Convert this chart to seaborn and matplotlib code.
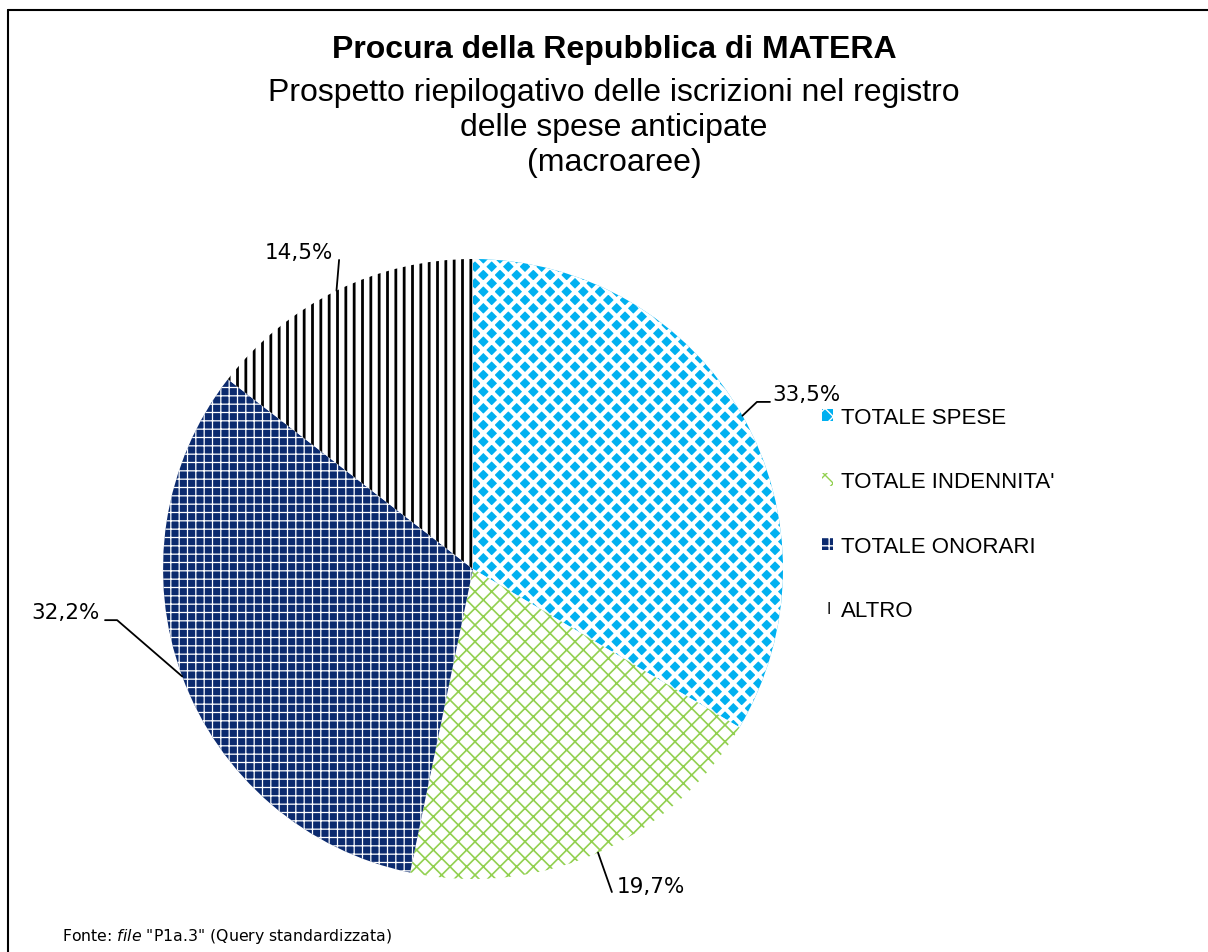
import numpy as np
import matplotlib
matplotlib.use("Agg")
import matplotlib.pyplot as plt
import seaborn as sns
from matplotlib.lines import Line2D

# ---- data ----
categories = ["TOTALE SPESE", "TOTALE INDENNITA'", "TOTALE ONORARI", "ALTRO"]
shares = [33.5, 19.7, 32.2, 14.5]
pct_labels = ["33,5%", "19,7%", "32,2%", "14,5%"]

# ---- styles ----
face_colors = ["#00B0F0", "#FFFFFF", "#0B2A6E", "#FFFFFF"]
hatch_colors = ["#FFFFFF", "#92D050", "#FFFFFF", "#000000"]
hatches = ["xx", "xx", "++", "||"]
hatch_widths = [3.0, 1.2, 0.9, 2.0]

sns.set_theme(style="white")
plt.rcParams["font.family"] = ["DejaVu Sans"]
plt.rcParams["text.color"] = "black"

W, H = 1208, 953
fig = plt.figure(figsize=(W / 100, H / 100), dpi=100)
R, cx, cy = 310, 473, 570
ax = fig.add_axes([(cx - R) / W, (H - cy - R) / H, 2 * R / W, 2 * R / H])

wedges, _ = ax.pie(shares, startangle=90, counterclock=False,
                   colors=face_colors, radius=1,
                   wedgeprops=dict(linewidth=0))
for w, hc, ht, hw in zip(wedges, hatch_colors, hatches, hatch_widths):
    w.set_edgecolor(hc)
    w.set_linewidth(0)
    w.set_hatch(ht)
    if hasattr(w, "set_hatch_linewidth"):
        w.set_hatch_linewidth(hw)
ax.set_xlim(-1, 1)
ax.set_ylim(-1, 1)
ax.set_aspect("equal")
ax.axis("off")

# ---- data labels with leader lines (layout positions in axes data units) ----
leader_paths = [
    [(0.916, 0.539), (0.958, 0.539)],
    [(0.448, -1.042)],
    [(-1.148, -0.165), (-1.187, -0.165)],
    [(-0.432, 0.997)],
]
text_pos = [(0.965, 0.565, "left"), (0.465, -1.023, "left"),
            (-1.203, -0.139, "right"), (-0.452, 1.023, "right")]
for w, lab, path, (tx, ty, ha) in zip(wedges, pct_labels, leader_paths, text_pos):
    mid = np.deg2rad((w.theta1 + w.theta2) / 2)
    pts = [(np.cos(mid), np.sin(mid))] + path
    xs, ys = zip(*pts)
    ax.plot(xs, ys, color="black", lw=1.3, clip_on=False)
    ax.text(tx, ty, lab, ha=ha, va="center", fontsize=15.5,
            family="DejaVu Sans", color="black", clip_on=False)

# ---- legend ----
leg = fig.legend(wedges, categories, loc="center left",
                 bbox_to_anchor=(822 / W, 1 - 515 / H), frameon=False,
                 prop={"family": "Liberation Sans", "size": 16},
                 handlelength=0.5, handleheight=0.5, handletextpad=0.35,
                 labelspacing=1.95, borderpad=0, borderaxespad=0,
                 labelcolor="black")

# ---- titles ----
fig.text(614 / W, 1 - 50 / H, "Procura della Repubblica di MATERA",
         ha="center", va="center", fontsize=23, fontweight="bold",
         family="Liberation Sans", color="black")
fig.text(614 / W, 1 - 93 / H, "Prospetto riepilogativo delle iscrizioni nel registro",
         ha="center", va="center", fontsize=23, family="Liberation Sans", color="black")
fig.text(614 / W, 1 - 128 / H, "delle spese anticipate",
         ha="center", va="center", fontsize=23, family="Liberation Sans", color="black")
fig.text(614 / W, 1 - 163 / H, "(macroaree)",
         ha="center", va="center", fontsize=23, family="Liberation Sans", color="black")

# ---- source note ----
fig.text(62 / W, 1 - 937 / H, r'Fonte: $\mathit{file}$ "P1a.3" (Query standardizzata)',
         ha="left", va="center", fontsize=11.3, family="DejaVu Sans", color="black")

# ---- outer frame ----
fig.add_artist(Line2D([8 / W, 8 / W], [0, 1 - 11 / H], color="black", lw=1.5,
                      transform=fig.transFigure))
fig.add_artist(Line2D([8 / W, 1], [1 - 11 / H, 1 - 11 / H], color="black", lw=1.5,
                      transform=fig.transFigure))

fig.savefig("out.png", dpi=100, facecolor="white")
